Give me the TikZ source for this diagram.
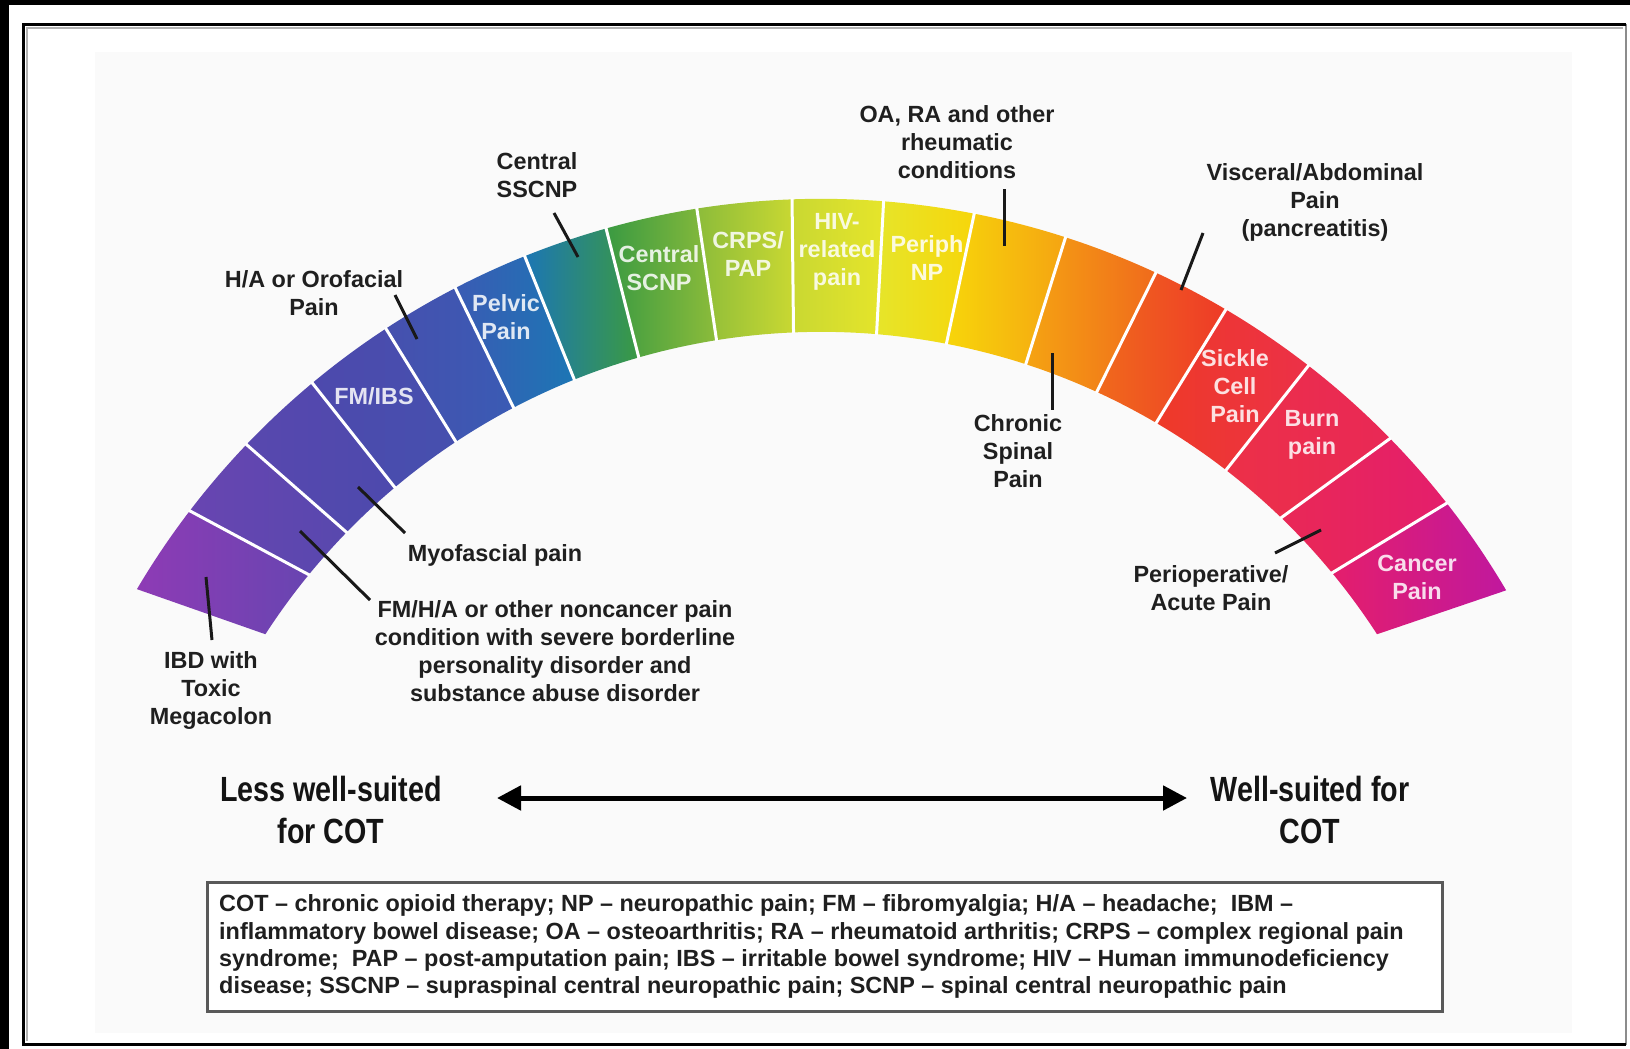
\documentclass[tikz,border=0pt]{standalone}
\usepackage{fontspec}
\setmainfont{Liberation Sans}
\newfontfamily\narrowfont[FakeStretch=0.82]{Liberation Sans}
\usetikzlibrary{arrows.meta,calc}
\definecolor{c0}{HTML}{8E3BB5}
\definecolor{c1}{HTML}{6845B1}
\definecolor{c2}{HTML}{5848AE}
\definecolor{c3}{HTML}{4D49AD}
\definecolor{c4}{HTML}{4650AE}
\definecolor{c5}{HTML}{3A5BB4}
\definecolor{c6}{HTML}{1C76B4}
\definecolor{c7}{HTML}{3A9A42}
\definecolor{c8}{HTML}{8CBC3A}
\definecolor{c9}{HTML}{C9D832}
\definecolor{c10}{HTML}{E6E52A}
\definecolor{c11}{HTML}{F7D60A}
\definecolor{c12}{HTML}{F5A412}
\definecolor{c13}{HTML}{F06A1C}
\definecolor{c14}{HTML}{EE3A28}
\definecolor{c15}{HTML}{EC3048}
\definecolor{c16}{HTML}{E92856}
\definecolor{c17}{HTML}{E41E6C}
\definecolor{c18}{HTML}{C0189E}
\tikzset{
  lbl/.style={font=\fontsize{23.4}{28}\bfseries\selectfont, align=center, text=black!88, inner sep=0pt},
  inlbl/.style={font=\fontsize{23.4}{28}\bfseries\selectfont, align=center, text=white, text opacity=0.85, inner sep=0pt},
  biglbl/.style={font=\narrowfont\fontsize{35}{41.6}\bfseries\selectfont, align=center, text=black!92, inner sep=0pt},
  legtxt/.style={font=\fontsize{23.4}{27.3}\bfseries\selectfont, align=left, text=black!88, inner sep=0pt},
  ptr/.style={line width=3pt, black!90},
  sepline/.style={white, line width=3pt},
  legbox/.style={draw=black!65, line width=2.5pt, fill=white, inner sep=0pt}
}
\begin{document}
\begin{tikzpicture}[x=1pt,y=1pt]
\useasboundingbox (0,0) rectangle (1630,-1049);
\fill[white] (0,0) rectangle (1630,-1049);
% outer black bands
\fill[black] (0,0) rectangle (1630,-5);
\fill[black] (0,0) rectangle (9,-1049);
% inner picture background
\fill[black!2] (95,-52) rectangle (1572,-1033);
% frame
\draw[black!30, line width=2pt] (27,-1041) -- (27,-28) -- (1623,-28);
\draw[black!45, line width=2pt] (1626,-24) -- (1626,-1045);
\draw[black, line width=3pt] (1626,-25) -- (23.5,-25) -- (23.5,-1044) -- (1626,-1044);

% arc segments
\coordinate (C) at (821.2,-993.8);
\def\OA{{149.4,142.6,136.3,129.8,123.2,117.4,111.9,105.7,99.0,92.1,85.5,78.9,72.1,65.1,59.4,52.2,44.3,38.1,30.5}}
\def\IA{{147.1,140.7,135.8,130.1,123.5,117.7,111.9,106.0,99.1,92.4,85.2,79.1,72.0,65.4,59.6,52.3,46.0,39.5,32.9}}
\foreach \k [evaluate=\k as \kk using int(\k+1)] in {0,...,17}{
  \pgfmathsetmacro\oa{\OA[\k]}
  \pgfmathsetmacro\ob{\OA[\kk]}
  \pgfmathsetmacro\ia{\IA[\k]}
  \pgfmathsetmacro\ib{\IA[\kk]}
  \shade[left color=c\k, right color=c\kk]
    ($(C)+(\oa:795)$) arc[start angle=\oa, end angle=\ob, radius=795]
    -- ($(C)+(\ib:662)$) arc[start angle=\ib, end angle=\ia, radius=662] -- cycle;
}
\foreach \k in {1,...,17}{
  \pgfmathsetmacro\oa{\OA[\k]}
  \pgfmathsetmacro\ia{\IA[\k]}
  \draw[sepline] ($(C)+(\oa:796)$) -- ($(C)+(\ia:661)$);
}

% labels inside the arc
\node[inlbl] (fmibs) at (374,-396) {FM/IBS};
\node[inlbl] (pelvic) at (506,-317) {Pelvic\\Pain};
\node[inlbl] (cscnp) at (659,-268) {Central\\SCNP};
\node[inlbl] (crps) at (748,-254) {CRPS/\\PAP};
\node[inlbl] (hiv) at (837,-252) {HIV-\\related\\pain};
\node[inlbl] (periph) at (927,-258) {Periph\\NP};
\node[inlbl] (sickle) at (1235,-386) {Sickle\\Cell\\Pain};
\node[inlbl] (burn) at (1312,-435) {Burn\\pain};
\node[inlbl] (cancer) at (1417,-577) {Cancer\\Pain};

% labels outside the arc
\node[lbl] (sscnp) at (537,-175) {Central\\SSCNP};
\node[lbl] (haoro) at (314,-293) {H/A or Orofacial\\Pain};
\node[lbl] (oara) at (957,-142) {OA, RA and other\\rheumatic\\conditions};
\node[lbl] (visc) at (1315,-202) {Visceral/Abdominal\\Pain\\(pancreatitis)};
\node[lbl] (chsp) at (1018,-451) {Chronic\\Spinal\\Pain};
\node[lbl] (myo) at (495,-555) {Myofascial pain};
\node[lbl] (fmha) at (555,-651) {FM/H/A or other noncancer pain\\condition with severe borderline\\personality disorder and\\substance abuse disorder};
\node[lbl] (ibd) at (211,-690) {IBD with\\Toxic\\Megacolon};
\node[lbl] (periop) at (1211,-588) {Perioperative/\\Acute Pain};

% pointer lines
\coordinate (pIBDa) at (206,-577);  \coordinate (pIBDb) at (212,-640);
\coordinate (pFMa) at (300,-531);   \coordinate (pFMb) at (370,-600);
\coordinate (pMYa) at (358,-487);   \coordinate (pMYb) at (405,-533);
\coordinate (pHAa) at (395,-295);   \coordinate (pHAb) at (417,-339);
\coordinate (pSSa) at (554,-213);   \coordinate (pSSb) at (578,-257);
\coordinate (pOAa) at (1004,-189);  \coordinate (pOAb) at (1004,-246);
\coordinate (pCSa) at (1052,-353);  \coordinate (pCSb) at (1052,-410);
\coordinate (pVIa) at (1203,-233);  \coordinate (pVIb) at (1181,-290);
\coordinate (pPOa) at (1321,-530);  \coordinate (pPOb) at (1275,-553);
\draw[ptr] (pIBDa) -- (pIBDb);
\draw[ptr] (pFMa) -- (pFMb);
\draw[ptr] (pMYa) -- (pMYb);
\draw[ptr] (pHAa) -- (pHAb);
\draw[ptr] (pSSa) -- (pSSb);
\draw[ptr] (pOAa) -- (pOAb);
\draw[ptr] (pCSa) -- (pCSb);
\draw[ptr] (pVIa) -- (pVIb);
\draw[ptr] (pPOa) -- (pPOb);

% scale labels and arrow
\node[biglbl] (less) at (331,-810) {Less well-suited\\for COT};
\node[biglbl] (well) at (1310,-810) {Well-suited for\\COT};
\coordinate (aL) at (497,-798);
\coordinate (aR) at (1187,-798);
\draw[line width=5pt, {Triangle[length=24pt,width=24pt]}-{Triangle[length=24pt,width=24pt]}] (aL) -- (aR);

% legend
\node[legbox, minimum width=1235pt, minimum height=129pt, anchor=north west] (legend) at (206,-881) {};
\node[legtxt, anchor=west] (legendtext) at ([xshift=13pt]legend.west) {COT – chronic opioid therapy; NP – neuropathic pain; FM – fibromyalgia; H/A – headache;\ \ IBM –\\inflammatory bowel disease; OA – osteoarthritis; RA – rheumatoid arthritis; CRPS – complex regional pain\\syndrome;\ \ PAP – post-amputation pain; IBS – irritable bowel syndrome; HIV – Human immunodeficiency\\disease; SSCNP – supraspinal central neuropathic pain; SCNP – spinal central neuropathic pain};
\end{tikzpicture}
\end{document}
